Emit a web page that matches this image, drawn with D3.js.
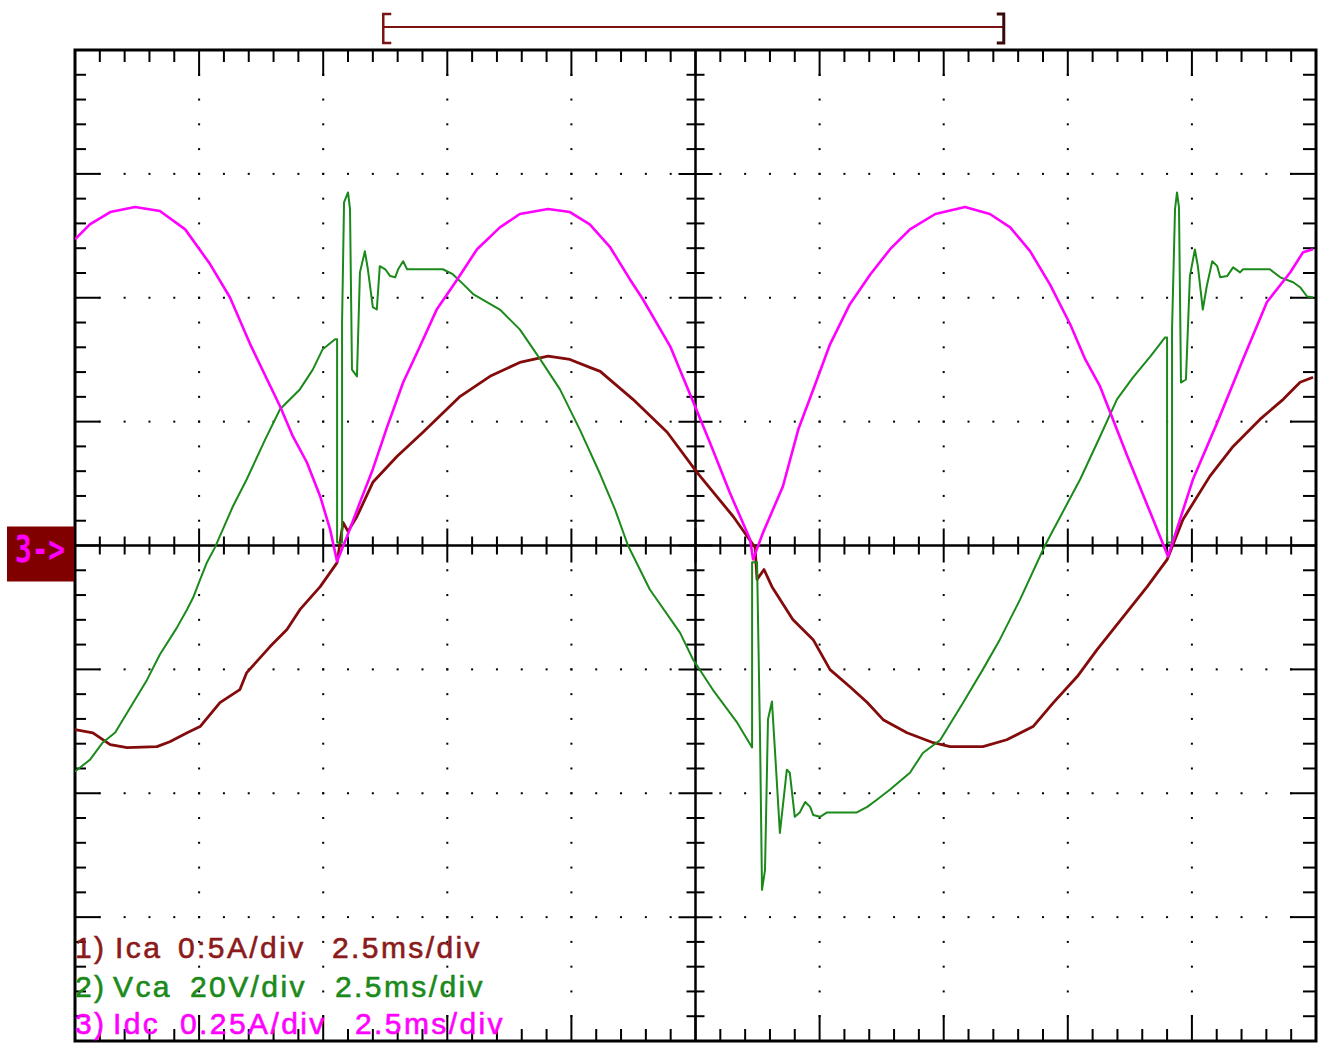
<!DOCTYPE html>
<html>
<head>
  <script src="https://cdnjs.cloudflare.com/ajax/libs/d3/7.8.5/d3.min.js"></script>
  <style>body { margin: 0; background: #fff }</style>
</head>
<body>
  <div id="scope"></div>

  <script>
    // time axis: 10 div x 2.5 ms, vertical: 8 div
    const MS_PER_DIV = 2.5;
    const ICA_PER_DIV = 0.5;   // A/div
    const VCA_PER_DIV = 20;    // V/div
    const IDC_PER_DIV = 0.25;  // A/div

    const legendLines = [
      ['1)', 'Ica', '0:5A/div', '2.5ms/div'],
      ['2)', 'Vca', '20V/div', '2.5ms/div'],
      ['3)', 'Idc', '0.25A/div', '2.5ms/div']
    ];

    // channel 1, Ica (ms, A)
    const icaT = [0, 0.36, 0.71, 1.05, 1.65, 1.91, 2.26, 2.52, 2.92, 3.32, 3.46, 3.93, 4.27, 4.53, 4.94, 5.28,
      5.40, 5.50, 5.68, 6.00, 6.49, 7.01, 7.76, 8.36, 8.96, 9.53, 9.97, 10.37, 10.58, 11.24, 11.93, 12.53, 13.26,
      13.70, 13.74, 13.88, 14.04, 14.46, 14.87, 15.21, 15.61, 15.96, 16.28, 16.76, 17.29, 17.63, 18.29, 18.77,
      19.30, 19.71, 20.19, 20.59, 21.60, 22.00, 22.32, 22.86, 23.33, 23.87, 24.34, 24.68, 24.94];
    const icaA = [-0.743, -0.756, -0.804, -0.816, -0.812, -0.792, -0.756, -0.731, -0.634, -0.582, -0.513, -0.408,
      -0.339, -0.259, -0.166, -0.069, 0.093, 0.057, 0.117, 0.255, 0.360, 0.457, 0.602, 0.683, 0.739, 0.764, 0.751,
      0.719, 0.703, 0.590, 0.457, 0.295, 0.117, -0.008, -0.137, -0.097, -0.166, -0.299, -0.380, -0.501, -0.570,
      -0.634, -0.703, -0.756, -0.796, -0.812, -0.812, -0.784, -0.731, -0.634, -0.529, -0.420, -0.166, -0.057,
      0.105, 0.279, 0.400, 0.509, 0.590, 0.659, 0.679];

    // channel 2, Vca (ms, V)
    const vcaT = [0, 0.30, 0.56, 0.81, 1.05, 1.45, 1.71, 2.05, 2.26, 2.38, 2.52, 2.66, 2.82, 3.18, 3.46, 3.83,
      4.13, 4.53, 4.79, 4.99, 5.24, 5.28, 5.28, 5.38, 5.38, 5.42, 5.50, 5.54, 5.58, 5.68, 5.74, 5.84, 5.90, 6.00,
      6.08, 6.14, 6.25, 6.35, 6.45, 6.51, 6.61, 6.69, 7.41, 7.61, 7.82, 8.02, 8.56, 8.96, 9.37, 9.77, 10.17,
      10.58, 10.88, 11.14, 11.58, 12.19, 12.45, 12.85, 13.34, 13.64, 13.64, 13.74, 13.80, 13.84, 13.90, 13.96,
      14.04, 14.10, 14.20, 14.34, 14.40, 14.50, 14.60, 14.71, 14.81, 14.87, 15.01, 15.15, 15.75, 15.96, 16.16,
      16.42, 16.82, 17.08, 17.43, 17.89, 18.29, 18.63, 19.04, 19.54, 20.25, 20.65, 20.99, 21.31, 21.66, 21.96,
      22.00, 22.00, 22.10, 22.10, 22.16, 22.20, 22.24, 22.28, 22.38, 22.46, 22.56, 22.62, 22.72, 22.80, 22.91,
      23.01, 23.07, 23.21, 23.33, 23.47, 23.53, 24.07, 24.28, 24.54, 24.68, 24.82, 24.94];
    const vcaV = [-36.5, -34.6, -31.8, -30.2, -27.0, -21.7, -17.6, -13.3, -10.3, -8.4, -5.5, -2.7, -0.3, 6.3,
      10.7, 17.1, 22.0, 25.2, 28.4, 31.7, 33.3, 33.3, 0.5, 0.5, 36.0, 55.4, 57.0, 54.3, 28.4, 27.3, 44.1, 47.5,
      44.6, 38.5, 38.1, 45.1, 44.6, 43.5, 43.3, 44.6, 45.9, 44.6, 44.6, 43.8, 42.2, 40.6, 38.1, 34.9, 30.1, 25.2,
      18.7, 11.5, 5.8, 0, -7.1, -14.1, -18.4, -23.3, -28.6, -32.6, -2.7, -2.7, -30.9, -55.6, -52.4, -28.1, -25.2,
      -33.0, -46.4, -36.2, -36.7, -43.8, -43.1, -41.4, -42.2, -43.5, -43.8, -43.1, -43.1, -42.2, -41.0, -39.4,
      -36.7, -33.5, -31.4, -25.4, -20.0, -15.2, -8.7, 0, 10.7, 17.6, 23.6, 27.1, 30.5, 33.6, 33.6, 0.5, 0.5,
      34.9, 54.3, 57.0, 54.6, 26.3, 26.8, 43.5, 47.8, 45.1, 38.1, 41.9, 45.9, 45.1, 43.3, 43.5, 44.9, 44.1, 44.6,
      44.6, 43.3, 42.5, 41.7, 40.2, 40.1];

    // channel 3, Idc (ms, A)
    const idcT = [0, 0.30, 0.71, 1.21, 1.71, 2.22, 2.72, 3.12, 3.53, 4.13, 4.39, 4.67, 4.94, 5.14, 5.28, 5.48,
      5.74, 6.00, 6.29, 6.61, 6.95, 7.29, 7.70, 8.10, 8.56, 8.96, 9.53, 9.97, 10.37, 10.78, 11.18, 11.44, 11.99,
      12.49, 12.79, 13.19, 13.60, 13.66, 13.86, 14.26, 14.57, 14.91, 15.21, 15.61, 16.02, 16.42, 16.82, 17.33,
      17.93, 18.43, 18.84, 19.24, 19.64, 20.05, 20.35, 20.65, 21.20, 21.66, 22.02, 22.52, 23.01, 23.53, 24.01,
      24.48, 24.74, 24.94];
    const idcA = [0.618, 0.648, 0.673, 0.683, 0.675, 0.638, 0.568, 0.501, 0.406, 0.281, 0.220, 0.168, 0.099,
      0.032, -0.032, 0.018, 0.087, 0.154, 0.240, 0.329, 0.402, 0.477, 0.537, 0.598, 0.642, 0.669, 0.679, 0.673,
      0.648, 0.602, 0.537, 0.497, 0.402, 0.281, 0.208, 0.107, 0.012, -0.028, 0.026, 0.119, 0.234, 0.325, 0.406,
      0.487, 0.547, 0.598, 0.638, 0.669, 0.683, 0.669, 0.642, 0.594, 0.527, 0.446, 0.376, 0.321, 0.180, 0.067,
      -0.022, 0.133, 0.248, 0.376, 0.491, 0.551, 0.592, 0.598];

    const width = 1325;
    const height = 1044;
    const plotL = 75, plotR = 1316, plotT = 50, plotB = 1041;

    const svg = d3.select('#scope').append('svg')
      .attr('width', width)
      .attr('height', height);

    const x = d3.scaleLinear().domain([0, 10 * MS_PER_DIV]).range([plotL, plotR]);
    const yDiv = d3.scaleLinear().domain([-4, 4]).range([plotB, plotT]);
    const yIca = d3.scaleLinear().domain([-4 * ICA_PER_DIV, 4 * ICA_PER_DIV]).range([plotB, plotT]);
    const yVca = d3.scaleLinear().domain([-4 * VCA_PER_DIV, 4 * VCA_PER_DIV]).range([plotB, plotT]);
    const yIdc = d3.scaleLinear().domain([-4 * IDC_PER_DIV, 4 * IDC_PER_DIV]).range([plotB, plotT]);

    const xMinor = d3.range(1, 50).map(i => i * MS_PER_DIV / 5);
    const yMinor = d3.range(1, 40).map(i => -4 + i / 5);
    const xMajor = d3.range(1, 10).map(i => i * MS_PER_DIV);
    const yMajor = d3.range(-3, 4);
    const xMid = 5 * MS_PER_DIV;

    // dotted graticule
    const grid = svg.append('g').attr('fill', '#000');
    xMajor.filter(t => t !== xMid).forEach(t => {
      grid.selectAll(null).data(yMinor).join('rect')
        .attr('x', x(t) - 1).attr('y', d => yDiv(d) - 1)
        .attr('width', 2).attr('height', 2);
    });
    yMajor.filter(d => d !== 0).forEach(d => {
      grid.selectAll(null).data(xMinor).join('rect')
        .attr('x', t => x(t) - 1).attr('y', yDiv(d) - 1)
        .attr('width', 2).attr('height', 2);
    });

    const isMajorX = t => Math.abs(t / MS_PER_DIV - Math.round(t / MS_PER_DIV)) < 1e-6;
    const isMajorY = d => Math.abs(d - Math.round(d)) < 1e-6;

    const axes = svg.append('g').attr('stroke', '#000').attr('stroke-width', 2);

    // centre cross
    axes.append('line').attr('x1', plotL).attr('x2', plotR)
      .attr('y1', yDiv(0)).attr('y2', yDiv(0)).attr('stroke-width', 2.5);
    axes.append('line').attr('x1', x(xMid)).attr('x2', x(xMid))
      .attr('y1', plotT).attr('y2', plotB).attr('stroke-width', 2.5);
    axes.selectAll(null).data(xMinor).join('line')
      .attr('x1', t => x(t)).attr('x2', t => x(t))
      .attr('y1', t => yDiv(0) - (isMajorX(t) ? 17 : 9))
      .attr('y2', t => yDiv(0) + (isMajorX(t) ? 17 : 9));
    axes.selectAll(null).data(yMinor).join('line')
      .attr('y1', d => yDiv(d)).attr('y2', d => yDiv(d))
      .attr('x1', d => x(xMid) - (isMajorY(d) ? 17 : 9))
      .attr('x2', d => x(xMid) + (isMajorY(d) ? 17 : 9));

    // frame ticks
    axes.selectAll(null).data(xMinor).join('line')
      .attr('x1', t => x(t)).attr('x2', t => x(t))
      .attr('y1', plotT).attr('y2', t => plotT + (isMajorX(t) ? 26 : 12));
    axes.selectAll(null).data(xMinor).join('line')
      .attr('x1', t => x(t)).attr('x2', t => x(t))
      .attr('y1', plotB).attr('y2', t => plotB - (isMajorX(t) ? 26 : 12));
    axes.selectAll(null).data(yMinor).join('line')
      .attr('y1', d => yDiv(d)).attr('y2', d => yDiv(d))
      .attr('x1', plotL).attr('x2', d => plotL + (isMajorY(d) ? 25 : 11));
    axes.selectAll(null).data(yMinor).join('line')
      .attr('y1', d => yDiv(d)).attr('y2', d => yDiv(d))
      .attr('x1', plotR).attr('x2', d => plotR - (isMajorY(d) ? 26 : 13));

    axes.append('rect')
      .attr('x', plotL).attr('y', plotT)
      .attr('width', plotR - plotL).attr('height', plotB - plotT)
      .attr('fill', 'none').attr('stroke-width', 3);

    // traces
    svg.append('clipPath').attr('id', 'plot')
      .append('rect').attr('x', plotL).attr('y', plotT)
      .attr('width', plotR - plotL).attr('height', plotB - plotT);

    const traces = [
      { t: icaT, v: icaA, y: yIca, color: '#840b0b', w: 2.8 },
      { t: vcaT, v: vcaV, y: yVca, color: '#1b8a1b', w: 2 },
      { t: idcT, v: idcA, y: yIdc, color: '#ff00ff', w: 2.6 }
    ];

    traces.forEach(s => {
      const line = d3.line()
        .x(i => x(s.t[i]))
        .y(i => s.y(s.v[i]));
      svg.append('path')
        .attr('clip-path', 'url(#plot)')
        .attr('d', line(d3.range(s.t.length)))
        .attr('fill', 'none')
        .attr('stroke', s.color)
        .attr('stroke-width', s.w)
        .attr('stroke-linejoin', 'round');
    });

    // trigger window bracket on top
    const bL = x(6.21), bR = x(18.71);
    const bracket = svg.append('g').attr('stroke', '#7a1414').attr('fill', 'none');
    bracket.append('line').attr('x1', bL).attr('x2', bR)
      .attr('y1', 27).attr('y2', 27).attr('stroke-width', 2);
    bracket.append('path').attr('stroke-width', 2.5)
      .attr('d', `M${bL + 8},14 H${bL} V43 H${bL + 8}`);
    bracket.append('path').attr('stroke-width', 3).attr('stroke', '#3a0a0a')
      .attr('d', `M${bR - 7},14 H${bR} V43 H${bR - 7}`);

    // channel 3 ground marker
    svg.append('rect')
      .attr('x', 7).attr('y', yDiv(0) - 19)
      .attr('width', plotL - 8).attr('height', 55)
      .attr('fill', '#800000');
    svg.append('text')
      .attr('x', 15).attr('y', yDiv(0) + 16)
      .attr('font-family', 'DejaVu Sans Mono, monospace')
      .attr('font-weight', 'bold')
      .attr('font-size', 38)
      .attr('textLength', 50)
      .attr('lengthAdjust', 'spacingAndGlyphs')
      .attr('fill', '#ff00ff')
      .text('3->');

    // legend
    const legendColors = ['#8b1a1a', '#1b8a1b', '#ff00ff'];
    const legendBase = [958, 997, 1034];
    const colX = [
      [75, 115, 178, 332],
      [75, 113, 190, 335],
      [75, 113, 180, 355]
    ];
    const legend = svg.append('g')
      .attr('font-family', 'Liberation Sans, Arial, sans-serif')
      .attr('font-size', 30)
      .attr('letter-spacing', 2.4);
    legendLines.forEach((parts, i) => {
      const g = legend.append('g')
        .attr('fill', legendColors[i])
        .attr('stroke', legendColors[i])
        .attr('stroke-width', 0.6);
      g.selectAll('text').data(parts).join('text')
        .attr('x', (d, j) => colX[i][j])
        .attr('y', legendBase[i])
        .text(d => d);
    });
  </script>
</body>
</html>
